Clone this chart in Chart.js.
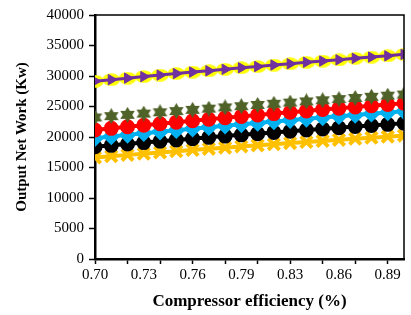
<!DOCTYPE html>
<html>
<head>
<meta charset="utf-8">
<script src="https://cdn.jsdelivr.net/npm/chart.js@4"></script>
<style>
  html, body { margin: 0; padding: 0; background: #fff; overflow: hidden; }
  #wrap { width: 416px; height: 315px; }
</style>
</head>
<body>
<div id="wrap"><canvas id="work-chart" width="416" height="315"></canvas></div>
<script>
// compressor efficiency categories
const efficiency = ['0.70', '0.71', '0.72', '0.73', '0.74', '0.75', '0.76', '0.77', '0.78', '0.79',
    '0.81', '0.82', '0.83', '0.84', '0.85', '0.86', '0.87', '0.88', '0.89', '0.90'];

// output net work (Kw)
const purpleWork = [29150, 29400, 29650, 29900, 30150, 30400, 30650, 30850, 31100, 31350,
    31550, 31800, 32000, 32250, 32450, 32650, 32900, 33100, 33300, 33550];
const yellowWork = [29150, 29400, 29650, 29900, 30150, 30400, 30650, 30850, 31100, 31350,
    31550, 31800, 32000, 32250, 32450, 32650, 32900, 33100, 33300, 33550];
const oliveWork = [23200, 23420, 23630, 23840, 24050, 24250, 24450, 24650, 24850, 25050,
    25250, 25450, 25640, 25830, 26020, 26210, 26400, 26590, 26780, 26960];
const redWork = [21150, 21420, 21680, 21930, 22180, 22430, 22670, 22910, 23150, 23380,
    23610, 23840, 24060, 24280, 24500, 24710, 24920, 25130, 25340, 25540];
const blueWork = [19800, 20080, 20350, 20610, 20870, 21120, 21370, 21610, 21850, 22080,
    22310, 22540, 22760, 22980, 23190, 23400, 23610, 23810, 24010, 24210];
const blackWork = [18400, 18630, 18860, 19080, 19300, 19520, 19730, 19940, 20150, 20350,
    20550, 20750, 20950, 21140, 21330, 21520, 21710, 21890, 22070, 22250];
const greenWork = [18550, 18780, 19010, 19230, 19450, 19670, 19880, 20090, 20300, 20500,
    20700, 20900, 21100, 21290, 21480, 21670, 21860, 22040, 22220, 22400];
const orangeWork = [16650, 16860, 17070, 17270, 17470, 17670, 17870, 18060, 18250, 18440,
    18630, 18820, 19000, 19180, 19360, 19540, 19720, 19890, 20060, 20230];

const yTicks = [0, 5000, 10000, 15000, 20000, 25000, 30000, 35000, 40000];

// custom marker shapes
function ellipseMarker(color) {
    const c = document.createElement('canvas');
    c.width = 18; c.height = 13;
    const g = c.getContext('2d');
    g.fillStyle = color;
    g.beginPath();
    g.ellipse(9, 6.5, 8.8, 6.3, 0, 0, Math.PI * 2);
    g.fill();
    return c;
}
function starMarker(color) {
    const c = document.createElement('canvas');
    c.width = 17; c.height = 16;
    const g = c.getContext('2d');
    g.fillStyle = color;
    g.beginPath();
    for (let i = 0; i < 12; i++) {
        const r = i % 2 === 0 ? 8 : 4.5;
        const a = -Math.PI / 2 + i * Math.PI / 6;
        const x = 8.5 + r * 1.05 * Math.cos(a);
        const y = 8 + r * Math.sin(a);
        if (i === 0) g.moveTo(x, y); else g.lineTo(x, y);
    }
    g.closePath();
    g.fill();
    return c;
}

const frame = {
    id: 'frame',
    afterDraw(chart) {
        const { ctx, chartArea } = chart;
        ctx.save();
        ctx.strokeStyle = '#000';
        ctx.lineWidth = 1.5;
        ctx.beginPath();
        ctx.moveTo(chartArea.left, chartArea.top);
        ctx.lineTo(chartArea.right, chartArea.top);
        ctx.lineTo(chartArea.right, chartArea.bottom);
        ctx.stroke();
        ctx.restore();
    }
};

const ctx = document.getElementById('work-chart');
//eslint-disable-next-line no-undef
new Chart(ctx, {
    type: 'line',
    data: {
        labels: efficiency,
        datasets: [
            {
                label: 'purple',
                data: purpleWork,
                borderColor: '#7030A0',
                backgroundColor: '#7030A0',
                borderWidth: 3,
                pointStyle: 'triangle',
                rotation: 90,
                pointRadius: 6,
                pointBorderWidth: 1
            },
            {
                label: 'yellow',
                data: yellowWork,
                borderColor: '#FFFF00',
                backgroundColor: '#FFFF00',
                borderWidth: 3,
                pointStyle: ellipseMarker('#FFFF00')
            },
            {
                label: 'olive',
                data: oliveWork,
                borderColor: '#4F6228',
                backgroundColor: '#4F6228',
                borderWidth: 0,
                showLine: false,
                pointStyle: starMarker('#4F6228')
            },
            {
                label: 'red',
                data: redWork,
                borderColor: '#FF0000',
                backgroundColor: '#FF0000',
                borderWidth: 4,
                pointStyle: 'circle',
                pointRadius: 5.5
            },
            {
                label: 'blue',
                data: blueWork,
                borderColor: '#00B0F0',
                backgroundColor: '#00B0F0',
                borderWidth: 4,
                pointStyle: 'rectRot',
                pointRadius: 6
            },
            {
                label: 'black',
                data: blackWork,
                borderColor: '#000000',
                backgroundColor: '#000000',
                borderWidth: 4,
                pointStyle: 'circle',
                pointRadius: 5.5
            },
            {
                label: 'green',
                data: greenWork,
                borderColor: '#7EDDB0',
                backgroundColor: '#7EDDB0',
                borderWidth: 2,
                pointStyle: 'triangle',
                pointRadius: 5.5
            },
            {
                label: 'orange',
                data: orangeWork,
                borderColor: '#FFC000',
                backgroundColor: '#FFC000',
                borderWidth: 4,
                pointStyle: 'crossRot',
                pointRadius: 8,
                pointBorderWidth: 4
            }
        ]
    },
    options: {
        responsive: false,
        animation: false,
        events: [],
        clip: 0,
        tension: 0,
        layout: { padding: { left: 0, top: 15, right: 4, bottom: 0 } },
        plugins: {
            legend: { display: false },
            tooltip: { enabled: false }
        },
        scales: {
            x: {
                type: 'category',
                offset: false,
                afterFit: (scale) => { scale.height = 56; },
                border: { color: '#000', width: 2.5 },
                grid: {
                    drawOnChartArea: false,
                    drawTicks: true,
                    tickLength: 5,
                    tickWidth: 1.5,
                    tickColor: (c) => (c.index % 2 === 0 ? '#000' : 'rgba(0,0,0,0)')
                },
                ticks: {
                    autoSkip: false,
                    maxRotation: 0,
                    padding: 2,
                    color: '#000',
                    font: { family: 'Liberation Serif', size: 15 },
                    callback: (value, index) => (index % 3 === 0 ? efficiency[index] : '')
                },
                title: {
                    display: true,
                    text: 'Compressor efficiency (%)',
                    color: '#000',
                    font: { family: 'Liberation Serif', size: 17, weight: 'bold' },
                    padding: { top: 0, bottom: 3 }
                }
            },
            y: {
                min: 0,
                max: 40000,
                afterFit: (scale) => { scale.width = 95; },
                afterBuildTicks: (scale) => { scale.ticks = yTicks.map(v => ({ value: v })); },
                border: { color: '#000', width: 2.5 },
                grid: {
                    drawOnChartArea: false,
                    drawTicks: true,
                    tickLength: 6,
                    tickWidth: 1.5,
                    tickColor: '#000'
                },
                ticks: {
                    padding: 5,
                    color: '#000',
                    font: { family: 'Liberation Serif', size: 15 },
                    callback: (value) => String(value)
                },
                title: {
                    display: true,
                    text: 'Output Net Work (Kw)',
                    color: '#000',
                    font: { family: 'Liberation Serif', size: 15, weight: 'bold' },
                    padding: { top: 13, bottom: 0 }
                }
            }
        }
    },
    plugins: [frame]
});
</script>
</body>
</html>
